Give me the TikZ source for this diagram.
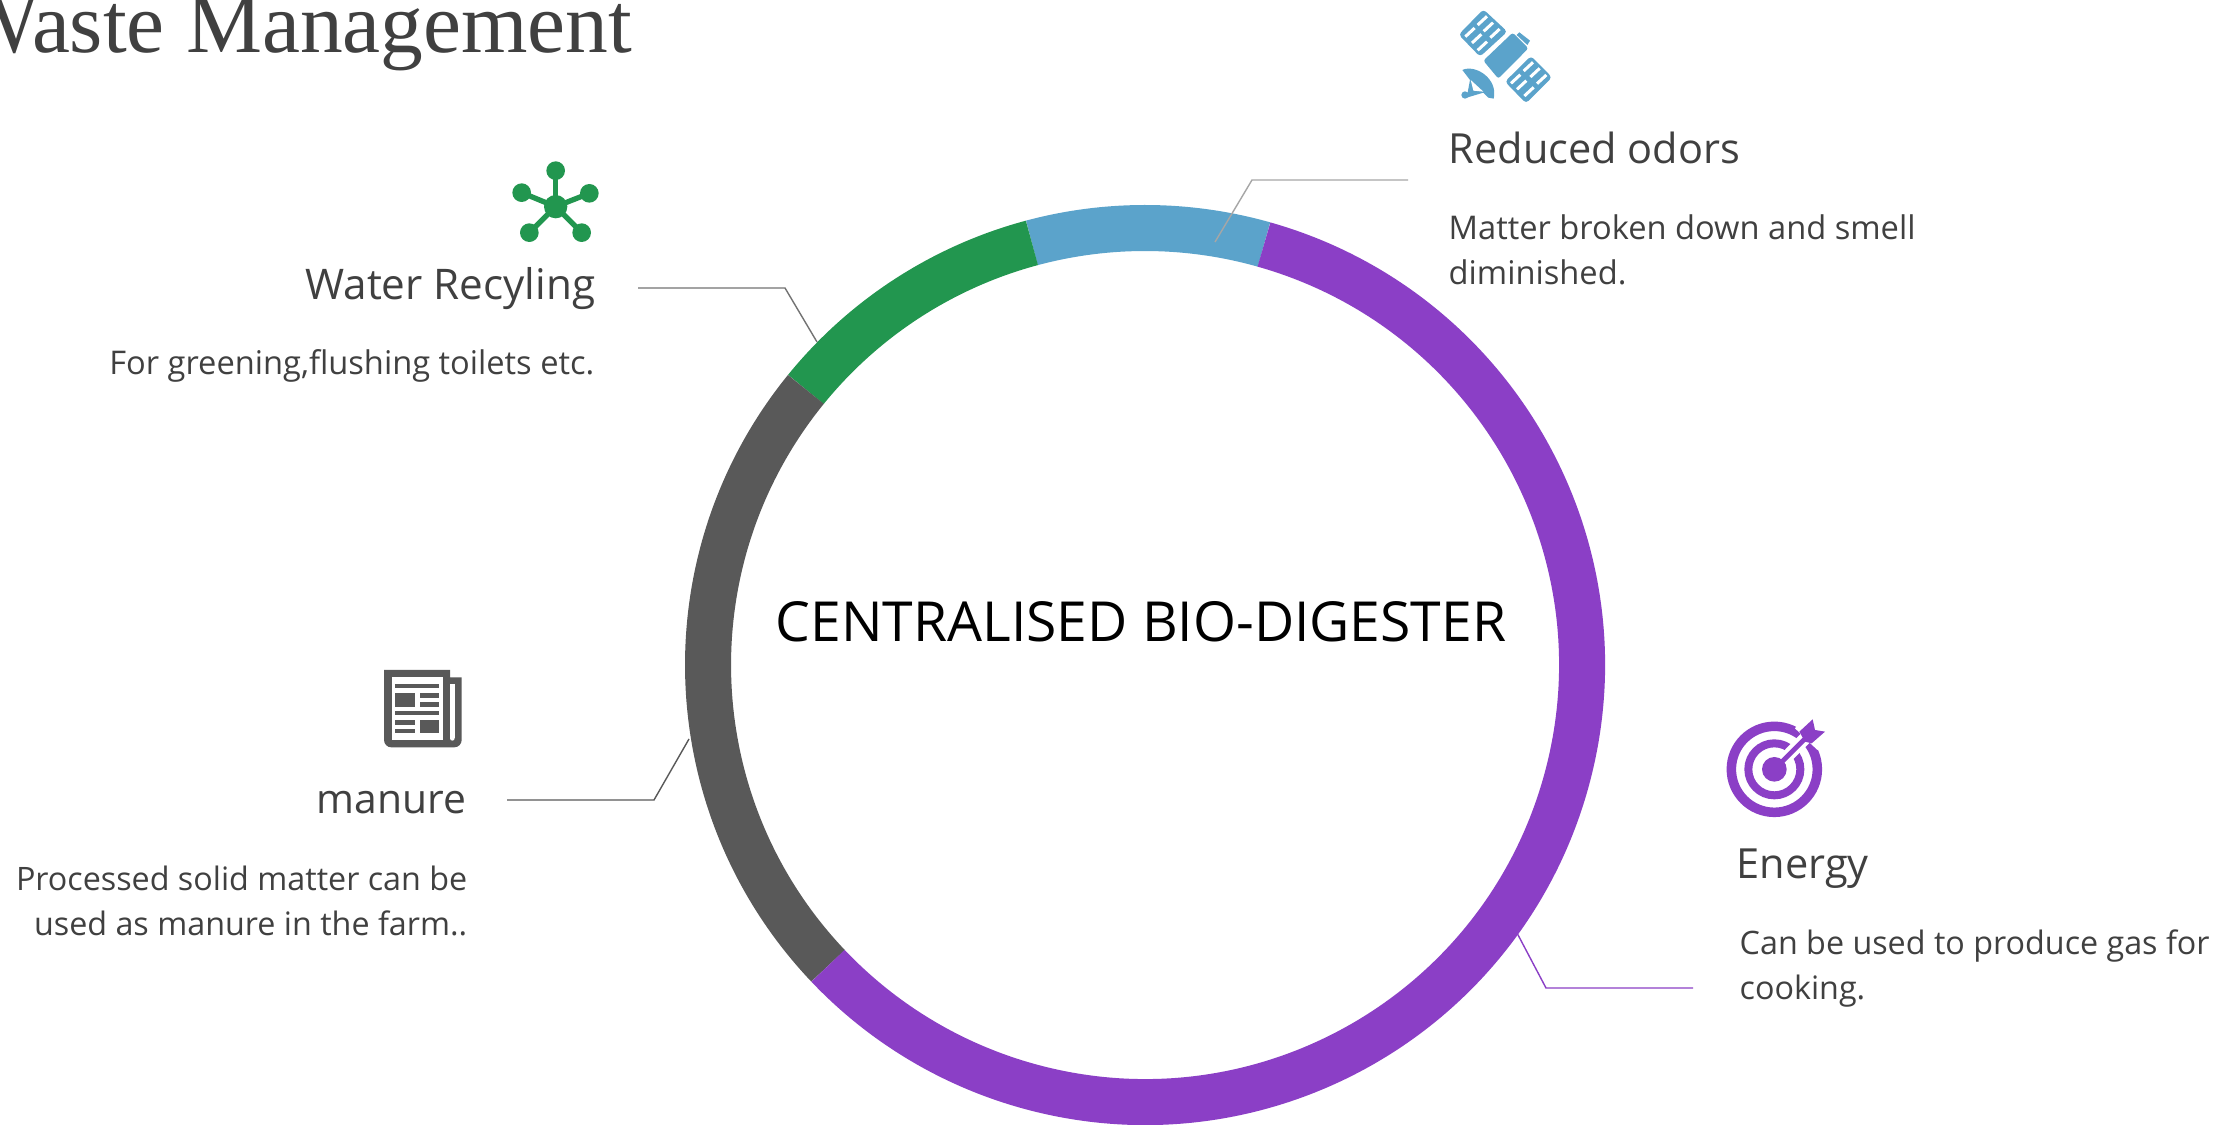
\documentclass[tikz,border=0pt]{standalone}
\usepackage{fontspec}
\setmainfont{Open Sans}
\newfontfamily\titlefont{Liberation Serif}
\definecolor{ringpurple}{HTML}{8B3FC6}
\definecolor{ringblue}{HTML}{5BA3CB}
\definecolor{ringgreen}{HTML}{22964F}
\definecolor{ringgrey}{HTML}{595959}
\definecolor{txt}{HTML}{404040}
\tikzset{
 px/.style={x=0.01cm,y=-0.01cm},
 ringarc/.style={line width=4.6mm,line cap=butt},
 head/.style={inner sep=0pt,text=txt,font=\fontsize{11.8}{13}\selectfont},
 bodytxt/.style={inner sep=0pt,text=txt,font=\fontsize{9.28}{12.8}\selectfont},
 bodyalt/.style={inner sep=0pt,text=txt,font=\fontsize{9.18}{12.8}\selectfont},
 conn/.style={line width=0.14mm},
 icon/.style={x=0.01cm/3,y=-0.01cm/3},
}
\begin{document}
\begin{tikzpicture}[px]
\useasboundingbox (0,0) rectangle (2233,1125);
\clip (0,0) rectangle (2233,1125);
\fill[white] (0,0) rectangle (2233,1125);
\coordinate (c) at (1145,665);
% title
\node[anchor=base east,inner sep=0pt,text=txt,font=\titlefont\fontsize{24.3}{28}\selectfont] (title) at (633,53) {Waste Management};
% ring
\draw[ringarc,ringblue] (c) ++(-105:437) arc[start angle=-105,end angle=-74.2,radius=437];
\draw[ringarc,ringgreen] (c) ++(-140.9:437) arc[start angle=-140.9,end angle=-105,radius=437];
\draw[ringarc,ringgrey] (c) ++(-223.5:437) arc[start angle=-223.5,end angle=-140.9,radius=437];
\draw[ringarc,ringpurple] (c) ++(-74.2:437) arc[start angle=-74.2,end angle=136.5,radius=437];
\node[anchor=base,inner sep=0pt,text=black,font=\fontsize{15.7}{20}\selectfont] (centre) at (1141,642) {CENTRALISED BIO-DIGESTER};
% labels
\node[head,anchor=base west] (odors) at (1448,164) {Reduced odors};
\node[bodytxt,anchor=north west,align=left] (odorsb) at (1448,214) {Matter broken down and smell\\diminished.};
\node[head,anchor=base east,font=\fontsize{12}{13}\selectfont] (water) at (596,300) {Water Recyling};
\node[bodytxt,anchor=base east] (waterb) at (595,375) {For greening,flushing toilets etc.};
\node[head,anchor=base east,font=\fontsize{11.6}{13}\selectfont] (manure) at (467,814) {manure};
\node[bodyalt,anchor=north east,align=right] (manureb) at (468,865) {Processed solid matter can be\\used as manure in the farm..};
\node[head,anchor=base west] (energy) at (1736,878) {Energy};
\node[bodyalt,anchor=north west,align=left] (energyb) at (1739,929) {Can be used to produce gas for\\cooking.};
% connectors
\coordinate (o1) at (1408,180); \coordinate (o2) at (1215,242);
\coordinate (w1) at (638,288); \coordinate (w2) at (817,342);
\coordinate (m1) at (507,800); \coordinate (m2) at (689,739);
\coordinate (e1) at (1693,988); \coordinate (e2) at (1517,933);
\draw[conn,color=black!35] (o1) -- (1252,180) -- (o2);
\draw[conn,color=black!55] (w1) -- (785,288) -- (w2);
\draw[conn,color=ringgrey] (m1) -- (654,800) -- (m2);
\draw[conn,color=ringpurple] (e1) -- (1546,988) -- (e2);
% satellite
\begin{scope}[shift={(1420,0)},icon]
 \fill[ringblue,rounded corners=1pt] (190,28) -- (116,104) -- (180,170) -- (262,95) -- cycle;
 \fill[ringblue,rounded corners=1pt] (333,168) -- (255,245) -- (318,310) -- (396,232) -- cycle;
 \fill[ringblue,rounded corners=0.7pt] (190,182) -- (278,98) -- (325,145) -- (235,236) -- cycle;
 \fill[ringblue] (298,97) -- (330,122) -- (322,135) -- (290,105) -- cycle;
 \foreach \a/\b in {187/62,205/81,225/100,150/97,170/116,187/138,
                    325/200,345/218,365/238,287/237,305/255,327/275}
  \draw[white,line width=0.3mm] (\a-14,\b+13) -- (\a+14,\b-13);
 % dish
 \fill[ringblue] (127,210) .. controls (165,192) and (235,235) .. (221,296) -- (205,293) -- (190,278) -- (140,293) -- (150,240) -- cycle;
 \fill[ringblue] (135,285) circle[radius=11];
 \fill[white] (152,240) -- (190,275) -- (160,272) -- cycle;
\end{scope}
% network
\begin{scope}[shift={(490,150)},icon]
 \foreach \a/\b in {197/62,95/128,298/130,118/248,275/248}{
  \draw[ringgreen,line width=0.53mm] (197,170) -- (\a,\b);
  \fill[ringgreen] (\a,\b) circle[radius=28];}
 \fill[ringgreen] (197,170) circle[radius=35];
\end{scope}
% newspaper
\begin{scope}[shift={(370,660)},icon]
 \fill[ringgrey] (42,30) -- (240,30) -- (240,52) -- (275,52) -- (275,240) arc[start angle=0,end angle=90,radius=22] -- (64,262) arc[start angle=90,end angle=180,radius=22] -- cycle;
 \fill[white] (65,52) rectangle (218,240);
 \fill[white] (240,72) rectangle (254,235);
 \fill[white] (247,235) circle[radius=7];
 \fill[ringgrey] (75,72) rectangle (207,85);
 \fill[ringgrey] (75,98) rectangle (134,140);
 \fill[ringgrey] (149,98) rectangle (207,113);
 \fill[ringgrey] (149,125) rectangle (207,140);
 \fill[ringgrey] (75,153) rectangle (207,166);
 \fill[ringgrey] (75,180) rectangle (134,195);
 \fill[ringgrey] (75,206) rectangle (134,220);
 \fill[ringgrey] (149,180) rectangle (207,220);
\end{scope}
% target
\begin{scope}[shift={(1710,700)},icon]
 \draw[ringpurple,line width=0.95mm] (193,208) circle[radius=129];
 \draw[ringpurple,line width=0.8mm] (193,208) circle[radius=78];
 \draw[white,line width=1.25mm] (215,186) -- (300,100);
 \fill[white] (255,85) -- (300,30) -- (370,90) -- (322,150) -- cycle;
 \fill[ringpurple] (193,208) circle[radius=37];
 \draw[ringpurple,line width=0.47mm] (193,208) -- (295,106);
 \fill[ringpurple] (268,95) -- (308,58) -- (315,90) -- (345,95) -- (305,130) -- (285,125) -- cycle;
\end{scope}
\end{tikzpicture}
\end{document}
